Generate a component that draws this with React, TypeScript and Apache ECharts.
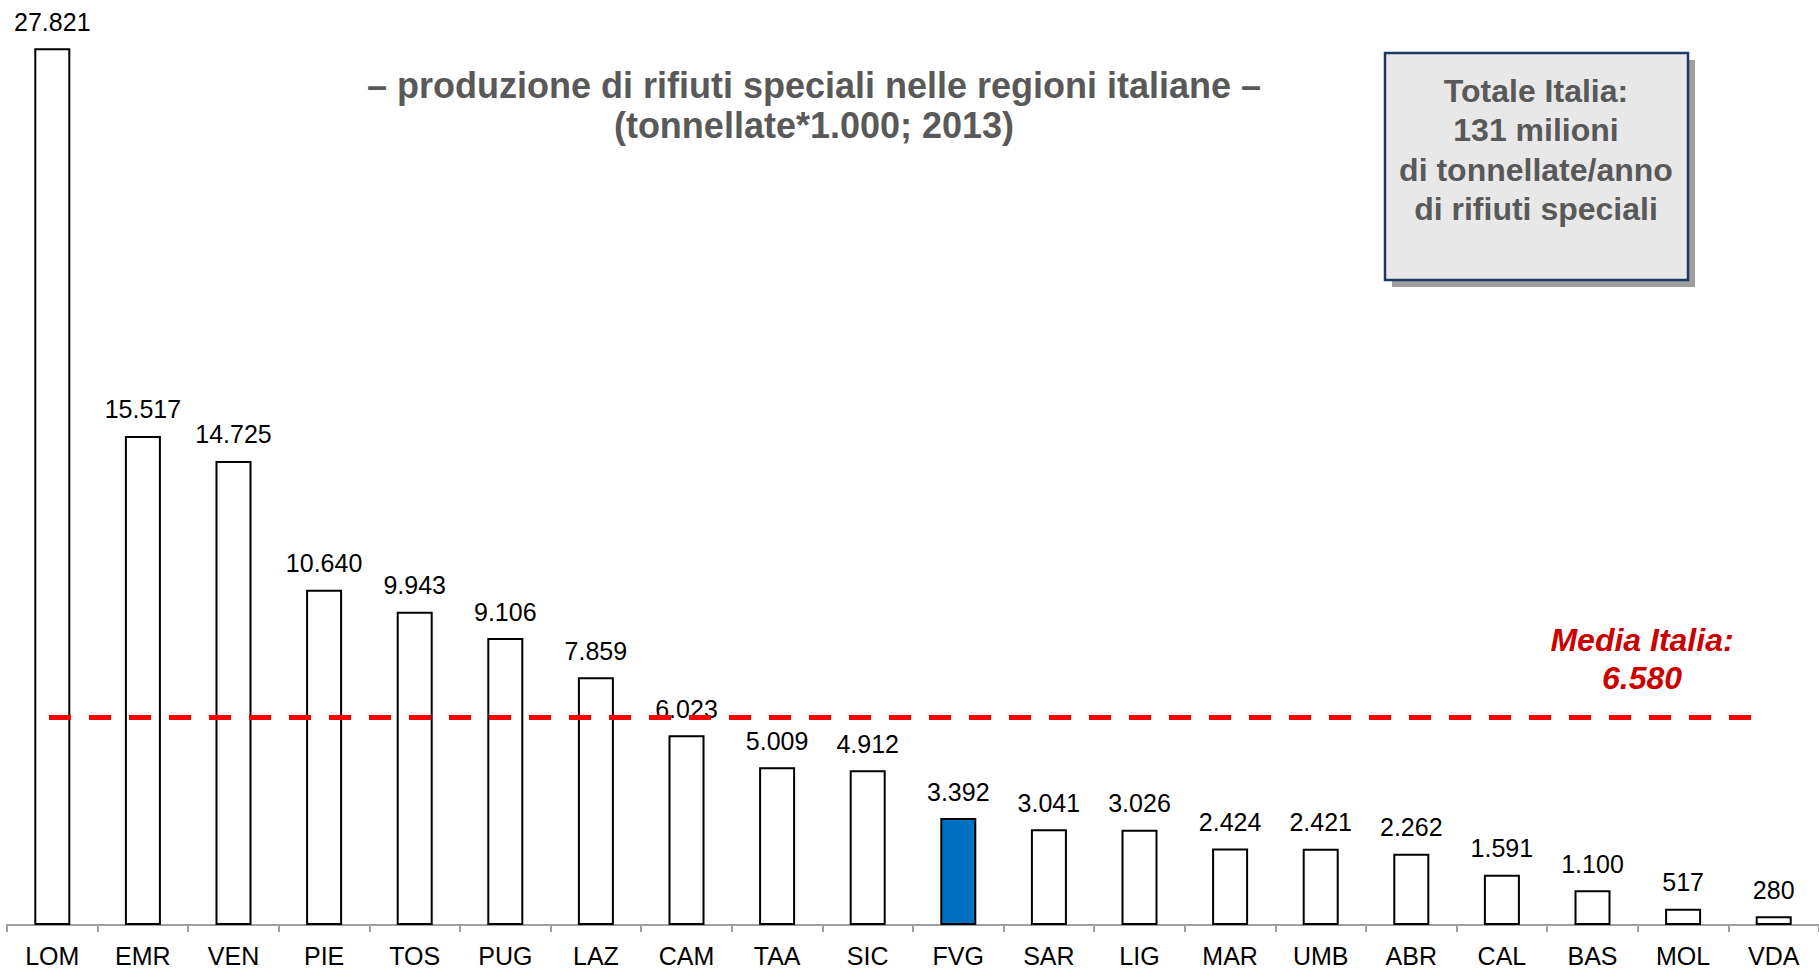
import React, { useEffect, useRef } from "react";
import * as echarts from "echarts";

const categories = ["LOM", "EMR", "VEN", "PIE", "TOS", "PUG", "LAZ", "CAM", "TAA", "SIC", "FVG", "SAR", "LIG", "MAR", "UMB", "ABR", "CAL", "BAS", "MOL", "VDA"];
const values = [27821, 15517, 14725, 10640, 9943, 9106, 7859, 6023, 5009, 4912, 3392, 3041, 3026, 2424, 2421, 2262, 1591, 1100, 517, 280];
const highlighted = "FVG";
const mediaItalia = 6580;
const titleLines = ["– produzione di rifiuti speciali nelle regioni italiane –", "(tonnellate*1.000; 2013)"];
const boxLines = ["Totale Italia:", "131 milioni", "di tonnellate/anno", "di rifiuti speciali"];
const mediaLines = ["Media Italia:", "6.580"];

const FONT = "Arial, sans-serif";

function fmt(v: number): string {
  if (v >= 1000) {
    const th = Math.floor(v / 1000);
    const rest = String(v % 1000).padStart(3, "0");
    return th + "." + rest;
  }
  return String(v);
}

export default function App() {
  const ref = useRef<HTMLDivElement>(null);
  useEffect(() => {
    if (!ref.current) return;
    const chart = echarts.init(ref.current, null, { renderer: "svg" });
    chart.setOption({
      animation: false,
      backgroundColor: "#ffffff",
      grid: { left: 7, top: 0, width: 1820, height: 927, containLabel: false },
      xAxis: {
        type: "category",
        data: categories,
        boundaryGap: true,
        axisLine: { show: true, lineStyle: { color: "#A0A0A0", width: 2 } },
        axisTick: { show: true, length: 7, lineStyle: { color: "#A0A0A0", width: 2 } },
        axisLabel: { fontSize: 25, color: "#000", fontFamily: FONT, margin: 18, interval: 0 },
        splitLine: { show: false },
      },
      yAxis: {
        type: "value",
        min: 0,
        max: 29350,
        show: false,
        splitLine: { show: false },
      },
      series: [
        {
          type: "bar",
          barWidth: 36,
          data: values.map((v, i) => ({
            value: v,
            itemStyle: {
              color: categories[i] === highlighted ? "#0070C0" : "#ffffff",
              borderColor: "#000000",
              borderWidth: 2,
            },
          })),
          label: {
            show: true,
            position: "top",
            distance: 14,
            fontSize: 25,
            color: "#000",
            fontFamily: FONT,
            formatter: (p: any) => fmt(p.value),
          },
          markLine: {
            silent: true,
            symbol: ["none", "none"],
            label: { show: false },
            lineStyle: { color: "#FF0000", width: 5, type: [22, 18] },
            data: [[{ x: 49, yAxis: mediaItalia }, { x: 1767, yAxis: mediaItalia }]],
          },
        },
      ],
      graphic: [
        {
          type: "text",
          style: {
            x: 814,
            y: 105,
            text: titleLines.join("\n"),
            font: `bold 36px ${FONT}`,
            fill: "#595959",
            align: "center",
            verticalAlign: "middle",
            lineHeight: 40,
          },
        },
        {
          type: "rect",
          shape: { x: 1392, y: 60, width: 303, height: 227 },
          style: { fill: "#9E9E9E" },
        },
        {
          type: "rect",
          shape: { x: 1385, y: 53, width: 303, height: 227 },
          style: { fill: "#E8E8E8", stroke: "#1F3864", lineWidth: 2.5 },
        },
        {
          type: "text",
          style: {
            x: 1536,
            y: 150,
            text: boxLines.join("\n"),
            font: `bold 32px ${FONT}`,
            fill: "#595959",
            align: "center",
            verticalAlign: "middle",
            lineHeight: 39.5,
          },
        },
        {
          type: "text",
          style: {
            x: 1642,
            y: 659,
            text: mediaLines.join("\n"),
            font: `italic bold 32px ${FONT}`,
            fill: "#CC0000",
            align: "center",
            verticalAlign: "middle",
            lineHeight: 38,
          },
        },
      ],
    });
    return () => chart.dispose();
  }, []);
  return (
    <div
      ref={ref}
      style={{ position: "absolute", left: 0, top: 0, width: 1819, height: 968 }}
    />
  );
}
